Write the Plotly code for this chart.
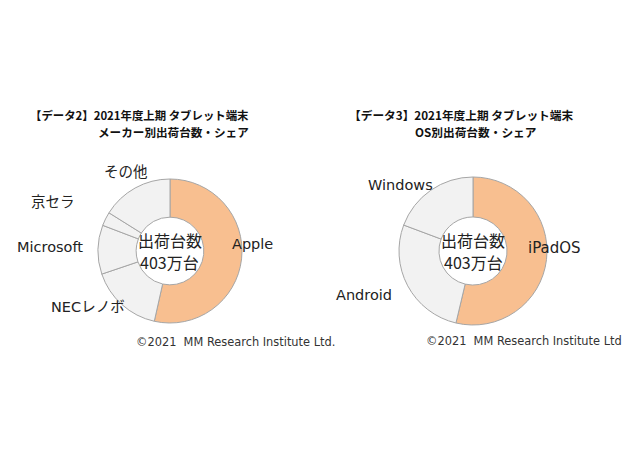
import plotly.graph_objects as go

maker_labels = ["Apple", "NECレノボ", "Microsoft", "京セラ", "その他"]
maker_share = [53.5, 16.3, 11.0, 3.1, 16.1]
os_labels = ["iPadOS", "Android", "Windows"]
os_share = [53.7, 27.0, 19.3]
center_lines = ["出荷台数", "403万台"]
title_maker = ["【データ2】2021年度上期 タブレット端末", "メーカー別出荷台数・シェア"]
title_os = ["【データ3】2021年度上期 タブレット端末", "OS別出荷台数・シェア"]
copyright_text = "©2021  MM Research Institute Ltd."
copyright_text2 = "©2021  MM Research Institute Ltd"

PEACH = "#F8BF90"
GRAY = "#F2F2F2"
LINE = "#A6A6A6"
FONT = "DejaVu Sans, Noto Sans CJK JP"
JFONT = "Noto Sans CJK JP"

W, H = 626, 470

def dom(cx, cy, r):
    return dict(x=[(cx - r) / W, (cx + r) / W], y=[(H - cy - r) / H, (H - cy + r) / H])

fig = go.Figure()
fig.add_trace(go.Pie(
    labels=maker_labels, values=maker_share, sort=False, direction="clockwise",
    rotation=0, hole=0.47, textinfo="none", hoverinfo="label+percent",
    marker=dict(colors=[PEACH] + [GRAY] * 4, line=dict(color=LINE, width=1)),
    domain=dom(170, 251, 72), showlegend=False,
))
fig.add_trace(go.Pie(
    labels=os_labels, values=os_share, sort=False, direction="clockwise",
    rotation=0, hole=0.46, textinfo="none", hoverinfo="label+percent",
    marker=dict(colors=[PEACH] + [GRAY] * 2, line=dict(color=LINE, width=1)),
    domain=dom(473, 251, 74), showlegend=False,
))

ann = []
def txt(x, y, t, size=14, font=FONT, bold=False, xanchor="center", color="#222"):
    if bold:
        t = "<b>" + t + "</b>"
    ann.append(dict(x=x / W, y=1 - y / H, xref="paper", yref="paper", text=t,
                    showarrow=False, xanchor=xanchor, yanchor="middle",
                    font=dict(size=size, family=font, color=color)))

# left chart labels
txt(252, 244, maker_labels[0], 14.5)
txt(88, 307, maker_labels[1], 14.5)
txt(50, 247, maker_labels[2], 14.5)
txt(53, 202, maker_labels[3], 14.5)
txt(126, 172, maker_labels[4], 14.5)
# right chart labels
txt(554, 248, os_labels[0], 15)
txt(364, 295, os_labels[1], 14.5)
txt(400, 185, os_labels[2], 14.5)

# center text
for cx in (170, 473):
    txt(cx, 240, center_lines[0], 16, JFONT)
    txt(cx, 262, center_lines[1], 16, JFONT)

# titles
txt(251, 115, title_maker[0], 11.4, JFONT, True, xanchor="right", color="#111")
txt(251, 132, title_maker[1], 11.6, JFONT, True, xanchor="right", color="#111")
txt(461, 115, title_os[0], 11.7, JFONT, True, color="#111")
txt(476, 132, title_os[1], 11.7, JFONT, True, color="#111")

# copyright
txt(134, 342, copyright_text, 11.4, FONT, xanchor="left", color="#333")
txt(624, 341, copyright_text2, 11.4, FONT, xanchor="right", color="#333")

fig.update_layout(
    width=W, height=H, margin=dict(l=0, r=0, t=0, b=0),
    paper_bgcolor="white", plot_bgcolor="white", annotations=ann,
)
fig.write_html("out.html", config={"displayModeBar": False},
               post_script="document.body.style.margin='0';")
